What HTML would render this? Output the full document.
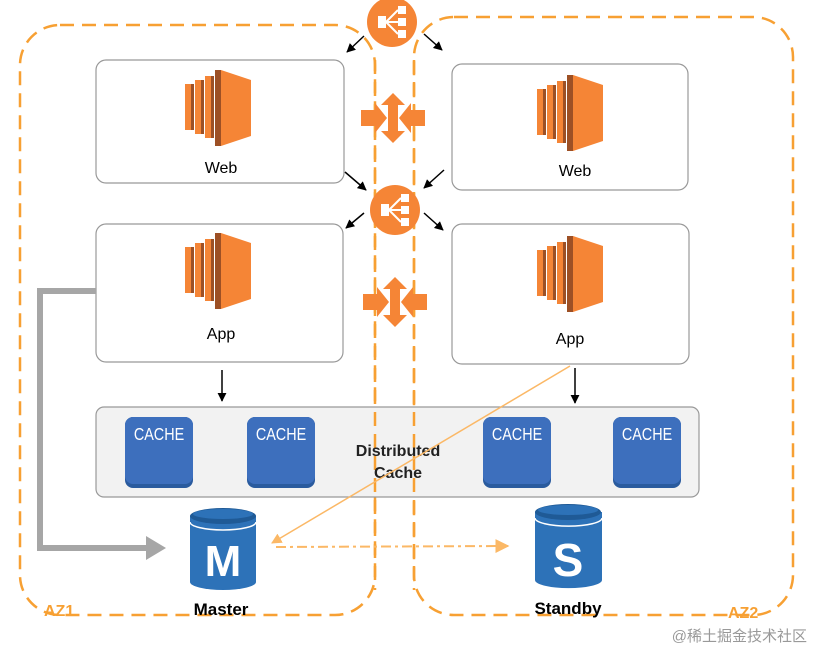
<!DOCTYPE html>
<html><head><meta charset="utf-8"><style>
body{margin:0;background:#fff}
svg{display:block}
text{font-family:"Liberation Sans",Arial,sans-serif}
</style></head><body>
<svg width="813" height="651" viewBox="0 0 813 651" xmlns="http://www.w3.org/2000/svg">
<defs>
<g id="ec2">
<rect x="0" y="14" width="8" height="46" fill="#f58536"/><rect x="6" y="14" width="3" height="46" fill="#9d5025"/>
<rect x="10" y="10" width="8" height="54" fill="#f58536"/><rect x="16" y="10" width="3" height="54" fill="#9d5025"/>
<rect x="20" y="6" width="8" height="62" fill="#f58536"/><rect x="26" y="6" width="3" height="62" fill="#9d5025"/>
<polygon points="30,0 36,0 36,76 30,76" fill="#9d5025"/>
<polygon points="36,0 66,10 66,66 36,76" fill="#f58536"/>
</g>
<g id="cache">
<rect x="0" y="0" width="68" height="71" rx="8" fill="#2a5b9e"/>
<rect x="0" y="0" width="68" height="67" rx="8" fill="#3d6fbd"/>
<text x="0" y="0" font-size="18" fill="#fff" text-anchor="middle" transform="translate(34 23) scale(0.8 1)">CACHE</text>
</g>
<g id="elb">
<circle cx="0" cy="0" r="25" fill="#f58536"/>
<rect x="-14" y="-6" width="8" height="12" fill="#fff"/>
<rect x="6" y="-16" width="8" height="8" fill="#fff"/><rect x="6" y="-4" width="8" height="8" fill="#fff"/><rect x="6" y="8" width="8" height="8" fill="#fff"/>
<path d="M-6 0 L6 -12 M-6 0 L6 0 M-6 0 L6 12" stroke="#fff" stroke-width="2"/>
</g>
<g id="cross">
<polygon points="0,-25 12,-13 5,-13 5,13 12,13 0,25 -12,13 -5,13 -5,-13 -12,-13" fill="#f58536"/>
<polygon points="-32,-8 -18,-8 -18,-15 -6,0 -18,15 -18,8 -32,8" fill="#f58536"/>
<polygon points="32,-8 18,-8 18,-15 6,0 18,15 18,8 32,8" fill="#f58536"/>
</g>
<marker id="ab" viewBox="0 0 10 10" refX="9" refY="5" markerWidth="6" markerHeight="6" orient="auto"><path d="M0 0L10 5L0 10z" fill="#000"/></marker>
<marker id="ao" viewBox="0 0 10 10" refX="9" refY="5" markerWidth="7" markerHeight="7" orient="auto"><path d="M0 0L10 5L0 10z" fill="#fbb866"/></marker>
</defs>

<rect x="20" y="25" width="355" height="590" rx="40" fill="none" stroke="#f7a033" stroke-width="2.5" stroke-dasharray="14 8"/>
<rect x="414" y="17" width="379" height="598" rx="40" fill="none" stroke="#f7a033" stroke-width="2.5" stroke-dasharray="14 8"/>

<rect x="96" y="60" width="248" height="123" rx="10" fill="#fff" stroke="#999" stroke-width="1.2"/>
<rect x="452" y="64" width="236" height="126" rx="10" fill="#fff" stroke="#999" stroke-width="1.2"/>
<rect x="96" y="224" width="247" height="138" rx="10" fill="#fff" stroke="#999" stroke-width="1.2"/>
<rect x="452" y="224" width="237" height="140" rx="10" fill="#fff" stroke="#999" stroke-width="1.2"/>
<rect x="96" y="407" width="603" height="90" rx="8" fill="#f2f2f2" stroke="#999" stroke-width="1.2"/>

<line x1="375" y1="60" x2="375" y2="590" stroke="#f7a033" stroke-width="2.5" stroke-dasharray="14 8"/>
<line x1="414" y1="60" x2="414" y2="590" stroke="#f7a033" stroke-width="2.5" stroke-dasharray="14 8"/>

<use href="#ec2" x="185" y="70"/>
<use href="#ec2" x="537" y="75"/>
<use href="#ec2" x="185" y="233"/>
<use href="#ec2" x="537" y="236"/>
<text x="221" y="173" font-size="16" text-anchor="middle">Web</text>
<text x="575" y="176" font-size="16" text-anchor="middle">Web</text>
<text x="221" y="339" font-size="16" text-anchor="middle">App</text>
<text x="570" y="344" font-size="16" text-anchor="middle">App</text>

<use href="#cache" x="125" y="417"/>
<use href="#cache" x="247" y="417"/>
<use href="#cache" x="483" y="417"/>
<use href="#cache" x="613" y="417"/>
<text x="398" y="456" font-size="16" font-weight="bold" text-anchor="middle" fill="#222">Distributed</text>
<text x="398" y="478" font-size="16" font-weight="bold" text-anchor="middle" fill="#222">Cache</text>

<use href="#elb" x="392" y="22"/>
<use href="#elb" x="395" y="210"/>
<use href="#cross" x="393" y="118"/>
<use href="#cross" x="395" y="302"/>

<g stroke="#000" stroke-width="1.5" marker-end="url(#ab)">
<line x1="364" y1="36" x2="347" y2="52"/>
<line x1="424" y1="34" x2="442" y2="50"/>
<line x1="345" y1="172" x2="366" y2="190"/>
<line x1="444" y1="170" x2="424" y2="188"/>
<line x1="364" y1="213" x2="346" y2="228"/>
<line x1="424" y1="213" x2="443" y2="230"/>
<line x1="222" y1="370" x2="222" y2="401"/>
<line x1="575" y1="368" x2="575" y2="403"/>
</g>

<polyline points="96,291 40,291 40,548 148,548" fill="none" stroke="#a6a6a6" stroke-width="6"/>
<polygon points="146,536 166,548 146,560" fill="#a6a6a6"/>

<line x1="570" y1="366" x2="272" y2="543" stroke="#fbb866" stroke-width="1.5" marker-end="url(#ao)"/>
<line x1="276" y1="547" x2="508" y2="546" stroke="#fbb866" stroke-width="2" stroke-dasharray="10 4 3 4" marker-end="url(#ao)"/>

<g>
<path d="M190 516 v66 a33 8 0 0 0 66 0 v-66z" fill="#2d72b8"/>
<ellipse cx="223" cy="516" rx="33" ry="8" fill="#1f5a96"/>
<ellipse cx="223" cy="514" rx="30" ry="5" fill="#2d72b8"/>
<path d="M190 522 a33 8 0 0 0 66 0" fill="none" stroke="#fff" stroke-width="1.5"/>
<text x="223" y="576" font-size="44" font-weight="bold" fill="#fff" text-anchor="middle">M</text>
</g>
<g>
<path d="M535 512 v68 a33 8 0 0 0 67 0 v-68z" fill="#2d72b8"/>
<ellipse cx="568" cy="512" rx="33" ry="8" fill="#1f5a96"/>
<ellipse cx="568" cy="510" rx="30" ry="5" fill="#2d72b8"/>
<path d="M535 518 a33 8 0 0 0 67 0" fill="none" stroke="#fff" stroke-width="1.5"/>
<text x="568" y="576" font-size="46" font-weight="bold" fill="#fff" text-anchor="middle">S</text>
</g>
<text x="221" y="615" font-size="17" font-weight="bold" text-anchor="middle">Master</text>
<text x="568" y="614" font-size="17" font-weight="bold" text-anchor="middle">Standby</text>
<text x="44" y="616" font-size="16" font-weight="bold" fill="#f7a033">AZ1</text>
<text x="728" y="618" font-size="16" font-weight="bold" fill="#f7a033">AZ2</text>

<rect x="400" y="620" width="413" height="31" fill="#fff"/>
<rect x="0" y="622" width="400" height="29" fill="#fff"/>
<text x="807" y="641" font-size="15" fill="#999" text-anchor="end" font-family="Liberation Sans,Noto Sans CJK SC,sans-serif">@稀土掘金技术社区</text>
</svg>
</body></html>
